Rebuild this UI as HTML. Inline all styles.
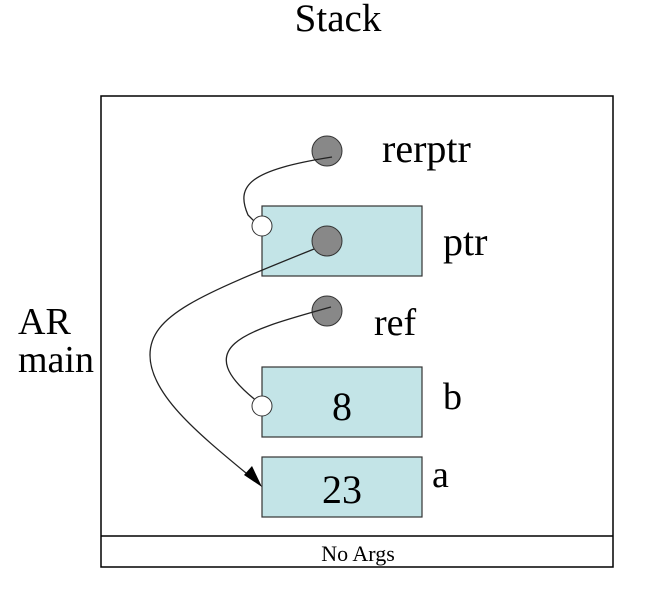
<!DOCTYPE html>
<html><head><style>body{margin:0;background:#fff}</style></head><body>
<svg width="662" height="592" viewBox="0 0 662 592" xmlns="http://www.w3.org/2000/svg" font-family="Liberation Serif, serif" fill="#000">
<text x="338" y="31" font-size="39" text-anchor="middle">Stack</text>
<rect x="101" y="96" width="512" height="471" fill="#fff" stroke="#000" stroke-width="1.5"/>
<line x1="101" y1="536" x2="613" y2="536" stroke="#000" stroke-width="1.5"/>
<text x="358" y="561" font-size="22" text-anchor="middle">No Args</text>
<text x="18" y="334" font-size="38">AR</text>
<text x="18" y="372" font-size="38">main</text>
<rect x="262" y="206" width="160" height="70" fill="#c3e4e7" stroke="#333" stroke-width="1.2"/>
<rect x="262" y="367" width="160" height="70" fill="#c3e4e7" stroke="#333" stroke-width="1.2"/>
<rect x="262" y="457" width="160" height="60" fill="#c3e4e7" stroke="#333" stroke-width="1.2"/>
<text x="342" y="420" font-size="40" text-anchor="middle">8</text>
<text x="342" y="503" font-size="40" text-anchor="middle">23</text>
<text x="382" y="162" font-size="40">rerptr</text>
<text x="443" y="255" font-size="40">ptr</text>
<text x="374" y="335" font-size="38">ref</text>
<text x="443" y="409" font-size="38">b</text>
<text x="432" y="487" font-size="38">a</text>
<circle cx="327" cy="151" r="15" fill="#888" stroke="#333"/>
<circle cx="327" cy="241" r="15" fill="#888" stroke="#333"/>
<circle cx="327" cy="311" r="15" fill="#888" stroke="#333"/>
<g fill="none" stroke="#222" stroke-width="1.3">
<path d="M332,157 C250,170 235,185 248,215 L255,222"/>
<path d="M314,249 C200,295 150,315 150,355 C150,395 200,435 252,478"/>
<path d="M331,307 C250,330 185,345 258,402"/>
</g>
<polygon points="262,487 244,475 252,466" fill="#000"/>
<circle cx="262" cy="226" r="10" fill="#fff" stroke="#333"/>
<circle cx="262" cy="406" r="10" fill="#fff" stroke="#333"/>
</svg>
</body></html>
